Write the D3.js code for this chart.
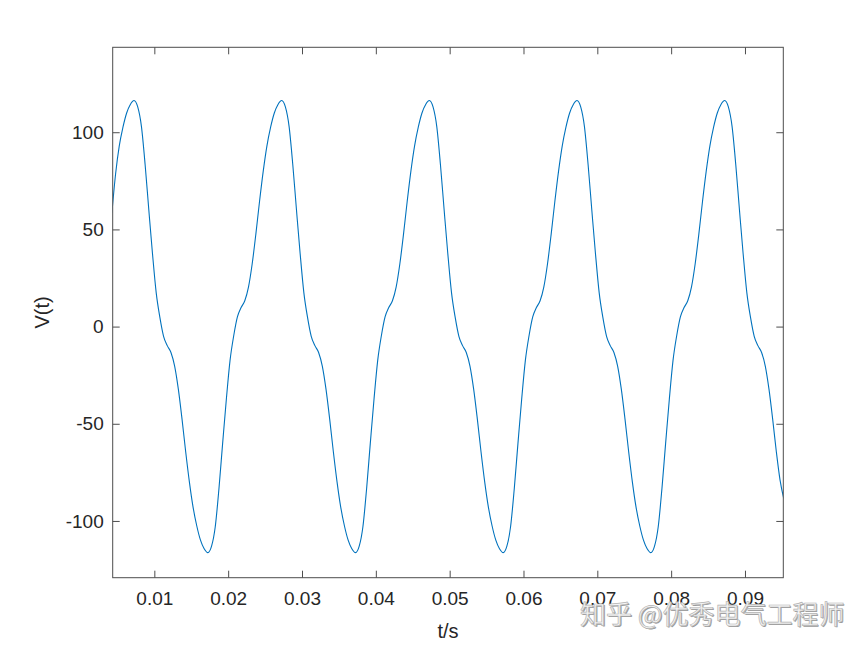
<!DOCTYPE html>
<html>
<head>
<meta charset="utf-8">
<script src="https://cdn.jsdelivr.net/npm/d3@7"></script>
<style>
  html, body { margin: 0; padding: 0; background: #ffffff; }
  svg { display: block; }
</style>
</head>
<body>
<div id="chart"></div>
<script>
// ---------- data ----------
// sampling grid of the waveform: start time and step (seconds)
const sampleStart = 0.00425;
const sampleStep = 0.0005;
// V(t) readings at each grid time
const voltage = [
  58.5, 78.5, 93.0, 102.6, 109.9, 114.3,
  116.3, 113.0, 103.0, 83.4, 60.1, 37.5, 17.5, 4.7, -5.0, -9.8, -13.3, -20.3, -32.2, -47.6, -64.5, -80.0, -93.0, -102.6, -109.9, -114.3,
  -116.3, -113.0, -103.0, -83.4, -60.1, -37.5, -17.5, -4.7, 5.0, 9.8, 13.3, 20.3, 32.2, 47.6, 64.5, 80.0, 93.0, 102.6, 109.9, 114.3,
  116.3, 113.0, 103.0, 83.4, 60.1, 37.5, 17.5, 4.7, -5.0, -9.8, -13.3, -20.3, -32.2, -47.6, -64.5, -80.0, -93.0, -102.6, -109.9, -114.3,
  -116.3, -113.0, -103.0, -83.4, -60.1, -37.5, -17.5, -4.7, 5.0, 9.8, 13.3, 20.3, 32.2, 47.6, 64.5, 80.0, 93.0, 102.6, 109.9, 114.3,
  116.3, 113.0, 103.0, 83.4, 60.1, 37.5, 17.5, 4.7, -5.0, -9.8, -13.3, -20.3, -32.2, -47.6, -64.5, -80.0, -93.0, -102.6, -109.9, -114.3,
  -116.3, -113.0, -103.0, -83.4, -60.1, -37.5, -17.5, -4.7, 5.0, 9.8, 13.3, 20.3, 32.2, 47.6, 64.5, 80.0, 93.0, 102.6, 109.9, 114.3,
  116.3, 113.0, 103.0, 83.4, 60.1, 37.5, 17.5, 4.7, -5.0, -9.8, -13.3, -20.3, -32.2, -47.6, -64.5, -80.0, -93.0, -102.6, -109.9, -114.3,
  -116.3, -113.0, -103.0, -83.4, -60.1, -37.5, -17.5, -4.7, 5.0, 9.8, 13.3, 20.3, 32.2, 47.6, 64.5, 80.0, 93.0, 102.6, 109.9, 114.3,
  116.3, 113.0, 103.0, 83.4, 60.1, 37.5, 17.5, 4.7, -5.0, -9.8, -13.3, -20.3, -32.2, -47.6, -64.5, -79.0, -88.5
];
const times = voltage.map((v, i) => sampleStart + i * sampleStep);

const xDomain = [0.00436, 0.09519];
const yDomain = [-129.2, 143.7];
const xTicks = [0.01, 0.02, 0.03, 0.04, 0.05, 0.06, 0.07, 0.08, 0.09];
const xTickLabels = ["0.01", "0.02", "0.03", "0.04", "0.05", "0.06", "0.07", "0.08", "0.09"];
const yTicks = [-100, -50, 0, 50, 100];
const yTickLabels = ["-100", "-50", "0", "50", "100"];
const xLabel = "t/s";
const yLabel = "V(t)";
const watermark = "知乎 @优秀电气工程师";

// ---------- layout ----------
const W = 865, H = 649;
const plot = { left: 112.7, right: 783.3, top: 47.3, bottom: 577.7 };
const axisColor = "#4d4d4d";
const textColor = "#262626";
const lineColor = "#0072BD";
const font = "'Liberation Sans', Arial, Helvetica, sans-serif";

const svg = d3.select("#chart").append("svg")
  .attr("width", W).attr("height", H)
  .attr("viewBox", `0 0 ${W} ${H}`);

const x = d3.scaleLinear().domain(xDomain).range([plot.left, plot.right]);
const y = d3.scaleLinear().domain(yDomain).range([plot.bottom, plot.top]);

svg.append("defs").append("clipPath").attr("id", "clip")
  .append("rect")
  .attr("x", plot.left).attr("y", plot.top)
  .attr("width", plot.right - plot.left).attr("height", plot.bottom - plot.top);

// waveform
const pts = times.map((t, i) => [t, voltage[i]]);
const line = d3.line().x(d => x(d[0])).y(d => y(d[1])).curve(d3.curveMonotoneX);
svg.append("path")
  .attr("clip-path", "url(#clip)")
  .attr("d", line(pts))
  .attr("fill", "none")
  .attr("stroke", lineColor)
  .attr("stroke-width", 1.1);

// axes (MATLAB-style: ticks inside, box)
const tickLen = 7;
function styleAxis(g) {
  g.selectAll(".domain").remove();
  g.selectAll(".tick line").attr("stroke", axisColor).attr("stroke-width", 1);
  g.selectAll(".tick text")
    .attr("fill", textColor)
    .style("font-family", font)
    .style("font-size", "19px");
}

const xFmt = (d) => xTickLabels[xTicks.indexOf(d)];
const yFmt = (d) => yTickLabels[yTicks.indexOf(d)];

svg.append("g")
  .attr("transform", `translate(0,${plot.bottom})`)
  .call(d3.axisBottom(x).tickValues(xTicks).tickFormat(xFmt).tickSizeInner(-tickLen).tickSizeOuter(0).tickPadding(14))
  .call(styleAxis);

svg.append("g")
  .attr("transform", `translate(0,${plot.top})`)
  .call(d3.axisTop(x).tickValues(xTicks).tickFormat("").tickSizeInner(-tickLen).tickSizeOuter(0))
  .call(styleAxis);

svg.append("g")
  .attr("transform", `translate(${plot.left},0)`)
  .call(d3.axisLeft(y).tickValues(yTicks).tickFormat(yFmt).tickSizeInner(-tickLen).tickSizeOuter(0).tickPadding(9))
  .call(styleAxis);

svg.append("g")
  .attr("transform", `translate(${plot.right},0)`)
  .call(d3.axisRight(y).tickValues(yTicks).tickFormat("").tickSizeInner(-tickLen).tickSizeOuter(0))
  .call(styleAxis);

// box
svg.append("rect")
  .attr("x", plot.left).attr("y", plot.top)
  .attr("width", plot.right - plot.left).attr("height", plot.bottom - plot.top)
  .attr("fill", "none")
  .attr("stroke", axisColor)
  .attr("stroke-width", 1);

// axis labels
svg.append("text")
  .attr("x", (plot.left + plot.right) / 2)
  .attr("y", 631)
  .attr("text-anchor", "middle")
  .attr("dominant-baseline", "central")
  .attr("fill", textColor)
  .style("font-family", font)
  .style("font-size", "20px")
  .text(xLabel);

svg.append("text")
  .attr("transform", `translate(42,${(plot.top + plot.bottom) / 2}) rotate(-90)`)
  .attr("text-anchor", "middle")
  .attr("dominant-baseline", "central")
  .attr("fill", textColor)
  .style("font-family", font)
  .style("font-size", "20px")
  .text(yLabel);

// watermark
const wm = svg.append("g").attr("transform", "translate(580,612)");
wm.append("text")
  .attr("x", 1.2).attr("y", 1.2)
  .attr("dominant-baseline", "central")
  .attr("fill", "#9a9a9a")
  .style("font-family", "'Noto Sans CJK SC', sans-serif")
  .style("font-size", "26px")
  .text(watermark);
wm.append("text")
  .attr("dominant-baseline", "central")
  .attr("fill", "#f4f4f4")
  .attr("stroke", "#b4b4b4")
  .attr("stroke-width", 0.7)
  .style("font-family", "'Noto Sans CJK SC', sans-serif")
  .style("font-size", "26px")
  .text(watermark);
</script>
</body>
</html>
